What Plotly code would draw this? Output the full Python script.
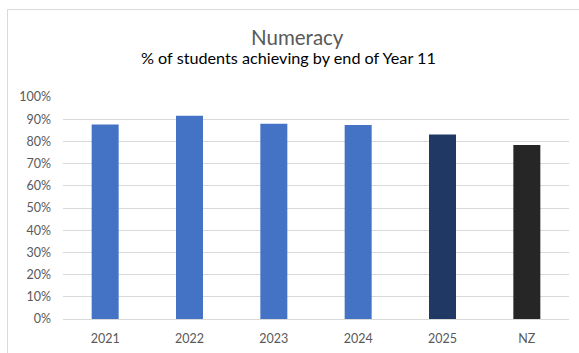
import plotly.graph_objects as go

# Numeracy achievement by end of Year 11
categories = ["2021", "2022", "2023", "2024", "2025", "NZ"]
values = [0.876, 0.915, 0.880, 0.874, 0.831, 0.784]
bar_colors = ["#4472C4", "#4472C4", "#4472C4", "#4472C4", "#1F3864", "#262626"]
y_ticks = [i / 10 for i in range(11)]
y_tick_labels = [f"{i * 10}%" for i in range(11)]

W, H = 579, 353
ml, mr, mt, mb = 63, 10, 97, 34

fig = go.Figure(
    go.Bar(
        x=categories,
        y=values,
        marker=dict(color=bar_colors, line=dict(width=0)),
        width=0.32,
        hoverinfo="x+y",
    )
)

font_family = "Lato, 'Open Sans', sans-serif"

fig.update_layout(
    width=W,
    height=H,
    margin=dict(l=ml, r=mr, t=mt, b=mb),
    paper_bgcolor="white",
    plot_bgcolor="white",
    showlegend=False,
    font=dict(family=font_family, size=12, color="#595959"),
    xaxis=dict(
        showgrid=False,
        showline=True,
        linecolor="#D9D9D9",
        linewidth=1,
        ticks="",
        tickfont=dict(size=12.5, color="#595959"),
        ticklabelstandoff=8,
        automargin=False,
        fixedrange=True,
    ),
    yaxis=dict(
        range=[0, 1.0],
        tickvals=y_ticks,
        ticktext=y_tick_labels,
        showgrid=True,
        gridcolor="#D9D9D9",
        gridwidth=1,
        zeroline=False,
        ticks="",
        tickfont=dict(size=12.5, color="#595959"),
        ticklabelstandoff=11,
        automargin=False,
        fixedrange=True,
    ),
)

# chart frame (left and top edges)
px_x = lambda p: (p - ml) / (W - ml - mr)
px_y = lambda p: 1 - (p - mt) / (H - mt - mb)
fig.add_shape(type="line", xref="paper", yref="paper",
              x0=px_x(7.5), x1=px_x(W + 5), y0=px_y(9.5), y1=px_y(9.5),
              line=dict(color="#D9D9D9", width=1))
fig.add_shape(type="line", xref="paper", yref="paper",
              x0=px_x(7.5), x1=px_x(7.5), y0=px_y(9.5), y1=px_y(H + 5),
              line=dict(color="#D9D9D9", width=1))

# titles
fig.add_annotation(text="Numeracy", xref="paper", yref="paper",
                   x=px_x(297), y=px_y(37), xanchor="center", yanchor="middle",
                   showarrow=False, font=dict(family=font_family, size=20.5, color="#595959"))
fig.add_annotation(text="% of students achieving by end of Year 11", xref="paper", yref="paper",
                   x=px_x(288), y=px_y(57), xanchor="center", yanchor="middle",
                   showarrow=False, font=dict(family=font_family, size=16.2, color="#000000"))

fig.write_html("out.html")
